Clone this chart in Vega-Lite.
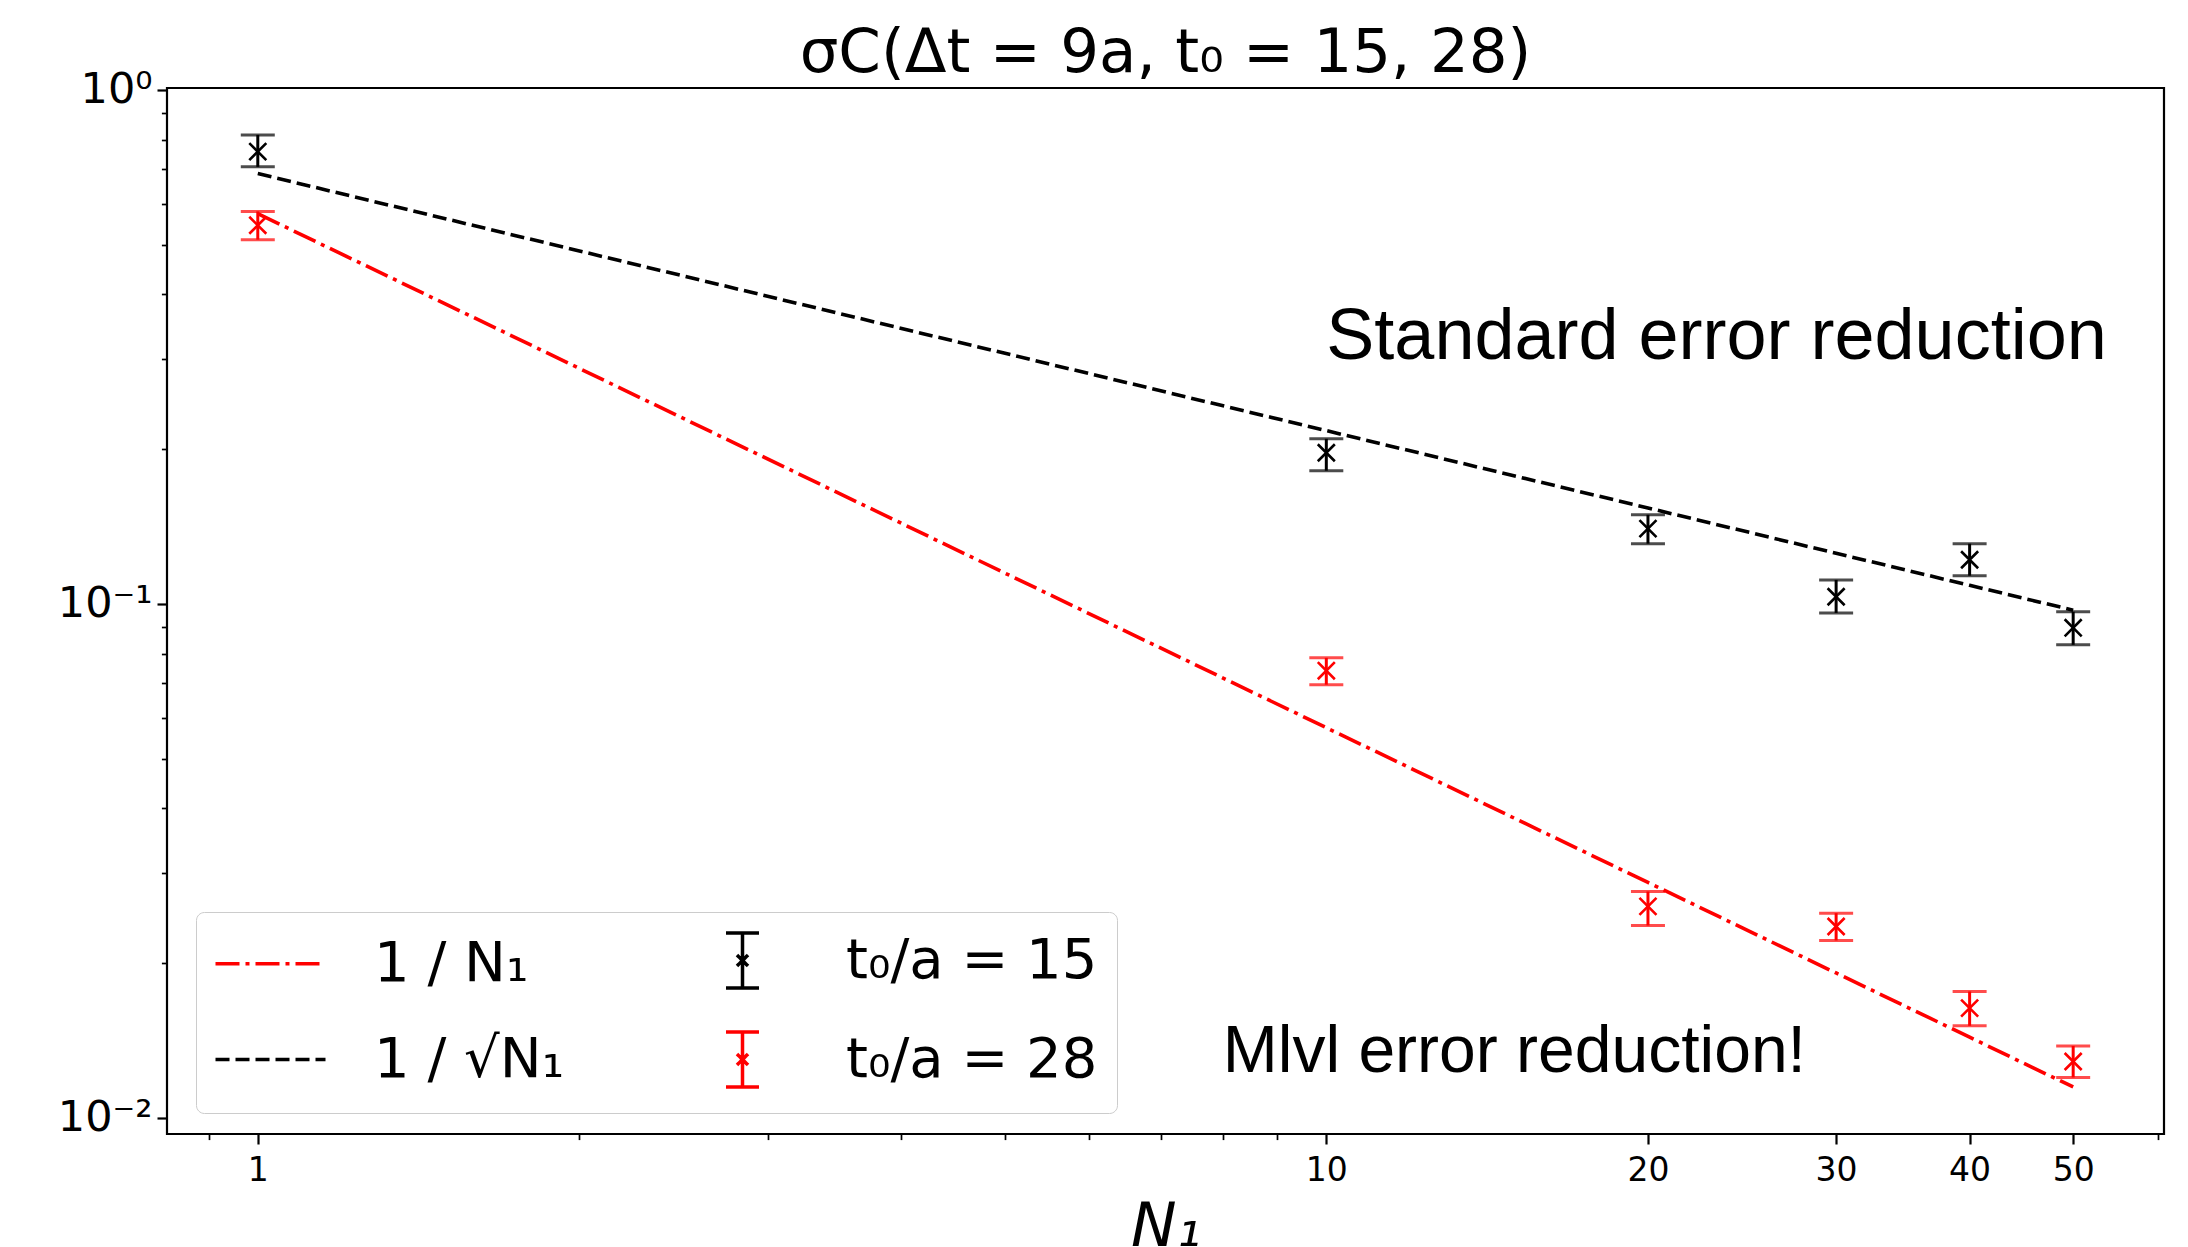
{
  "$schema": "https://vega.github.io/schema/vega-lite/v6.json",
  "width": 1997,
  "height": 1046,
  "autosize": {"type": "none"},
  "padding": {"left": 167, "top": 88, "right": 24, "bottom": 113},
  "background": "white",
  "title": {
    "text": "σC(Δt = 9a, t₀ = 15, 28)",
    "font": "DejaVu Sans",
    "fontSize": 61,
    "fontWeight": "normal",
    "color": "black",
    "anchor": "middle",
    "frame": "group",
    "offset": 8,
    "dy": 24
  },
  "datasets": {
    "points": [
      {"N": 1, "series": "t₀/a = 15", "value": 0.758, "lo": 0.708, "hi": 0.817},
      {"N": 10, "series": "t₀/a = 15", "value": 0.1967, "lo": 0.1815, "hi": 0.2094},
      {"N": 20, "series": "t₀/a = 15", "value": 0.140, "lo": 0.1309, "hi": 0.149},
      {"N": 30, "series": "t₀/a = 15", "value": 0.1032, "lo": 0.096, "hi": 0.1113},
      {"N": 40, "series": "t₀/a = 15", "value": 0.1218, "lo": 0.1134, "hi": 0.1309},
      {"N": 50, "series": "t₀/a = 15", "value": 0.0898, "lo": 0.0832, "hi": 0.0965},
      {"N": 1, "series": "t₀/a = 28", "value": 0.545, "lo": 0.511, "hi": 0.580},
      {"N": 10, "series": "t₀/a = 28", "value": 0.0741, "lo": 0.0696, "hi": 0.0785},
      {"N": 20, "series": "t₀/a = 28", "value": 0.02578, "lo": 0.02366, "hi": 0.02756},
      {"N": 30, "series": "t₀/a = 28", "value": 0.02356, "lo": 0.02213, "hi": 0.02501},
      {"N": 40, "series": "t₀/a = 28", "value": 0.01634, "lo": 0.0151, "hi": 0.01761},
      {"N": 50, "series": "t₀/a = 28", "value": 0.01287, "lo": 0.01198, "hi": 0.0138}
    ],
    "lines": [
      {"N": 1, "series": "1 / N₁", "value": 0.574},
      {"N": 10, "series": "1 / N₁", "value": 0.0574},
      {"N": 20, "series": "1 / N₁", "value": 0.0287},
      {"N": 30, "series": "1 / N₁", "value": 0.01913},
      {"N": 40, "series": "1 / N₁", "value": 0.01435},
      {"N": 50, "series": "1 / N₁", "value": 0.01148},
      {"N": 1, "series": "1 / √N₁", "value": 0.687},
      {"N": 10, "series": "1 / √N₁", "value": 0.2172},
      {"N": 20, "series": "1 / √N₁", "value": 0.1536},
      {"N": 30, "series": "1 / √N₁", "value": 0.1254},
      {"N": 40, "series": "1 / √N₁", "value": 0.1086},
      {"N": 50, "series": "1 / √N₁", "value": 0.0972}
    ],
    "notes": [
      {"N": 10, "value": 0.3, "label": "Standard error reduction"},
      {"N": 8, "value": 0.0123, "label": "Mlvl error reduction!"}
    ]
  },
  "encoding": {
    "x": {
      "field": "N",
      "type": "quantitative",
      "scale": {"type": "log", "domain": [0.8223, 60.81], "nice": false, "zero": false},
      "axis": {
        "title": "N₁",
        "titleFont": "DejaVu Sans",
        "titleFontSize": 61,
        "titleFontStyle": "italic",
        "titleFontWeight": "normal",
        "titleColor": "black",
        "titleBaseline": "alphabetic",
        "titleY": 111,
        "values": [0.9, 1, 2, 3, 4, 5, 6, 7, 8, 9, 10, 20, 30, 40, 50, 60],
        "labelExpr": "indexof([1, 10, 20, 30, 40, 50], datum.value) >= 0 ? datum.value : ''",
        "labelFont": "DejaVu Sans",
        "labelFontSize": 33,
        "labelColor": "black",
        "labelPadding": 10,
        "labelOverlap": false,
        "labelFlush": false,
        "labelBound": false,
        "grid": false,
        "domain": false,
        "tickColor": "black",
        "tickSize": {"condition": {"test": "indexof([1, 10, 20, 30, 40, 50], datum.value) >= 0", "value": 10}, "value": 5.6},
        "tickWidth": {"condition": {"test": "indexof([1, 10, 20, 30, 40, 50], datum.value) >= 0", "value": 2.2}, "value": 1.7}
      }
    },
    "y": {
      "field": "value",
      "type": "quantitative",
      "scale": {"type": "log", "domain": [0.0093, 1.008], "nice": false, "zero": false},
      "axis": {
        "title": null,
        "values": [0.01, 0.02, 0.03, 0.04, 0.05, 0.06, 0.07, 0.08, 0.09, 0.1, 0.2, 0.3, 0.4, 0.5, 0.6, 0.7, 0.8, 0.9, 1],
        "labelExpr": "datum.value == 1 ? '10⁰' : datum.value == 0.1 ? '10⁻¹' : datum.value == 0.01 ? '10⁻²' : ''",
        "labelFont": "DejaVu Sans",
        "labelFontSize": 43,
        "labelColor": "black",
        "labelPadding": 5,
        "labelBaseline": "middle",
        "labelOverlap": false,
        "labelFlush": false,
        "labelBound": false,
        "grid": false,
        "domain": false,
        "tickColor": "black",
        "tickSize": {"condition": {"test": "datum.value == 1 || datum.value == 0.1 || datum.value == 0.01", "value": 10}, "value": 5.6},
        "tickWidth": {"condition": {"test": "datum.value == 1 || datum.value == 0.1 || datum.value == 0.01", "value": 2.2}, "value": 1.7}
      }
    }
  },
  "resolve": {"legend": {"color": "independent", "strokeDash": "independent", "shape": "independent"}},
  "layer": [
    {
      "data": {"name": "lines"},
      "mark": {"type": "line", "strokeWidth": 3.6, "clip": true},
      "encoding": {
        "color": {"field": "series", "type": "nominal", "legend": null},
        "strokeDash": {"field": "series", "type": "nominal", "legend": null},
        "detail": {"field": "series"}
      }
    },
    {
      "data": {"name": "points"},
      "mark": {"type": "rule", "strokeWidth": 3},
      "encoding": {
        "y": {"field": "lo", "type": "quantitative"},
        "y2": {"field": "hi"},
        "color": {"field": "series", "type": "nominal", "legend": null}
      }
    },
    {
      "data": {"name": "points"},
      "mark": {"type": "tick", "orient": "horizontal", "size": 34, "thickness": 3},
      "encoding": {
        "y": {"field": "lo", "type": "quantitative"},
        "color": {"field": "series", "type": "nominal", "legend": null}
      }
    },
    {
      "data": {"name": "points"},
      "mark": {"type": "tick", "orient": "horizontal", "size": 34, "thickness": 3},
      "encoding": {
        "y": {"field": "hi", "type": "quantitative"},
        "color": {"field": "series", "type": "nominal", "legend": null}
      }
    },
    {
      "data": {"name": "points"},
      "mark": {"type": "point", "shape": "M-1,-1L1,1M-1,1L1,-1", "size": 290, "filled": false, "strokeWidth": 2.6, "opacity": 1},
      "encoding": {
        "color": {"field": "series", "type": "nominal", "legend": null}
      }
    },
    {
      "data": {"name": "points"},
      "mark": {"type": "point", "filled": false, "opacity": 0, "strokeWidth": 3.5},
      "encoding": {
        "color": {
          "field": "series",
          "type": "nominal",
          "scale": {
            "domain": ["1 / N₁", "t₀/a = 15", "1 / √N₁", "t₀/a = 28"],
            "range": ["#ff0000", "#000000", "#000000", "#ff0000"]
          },
          "legend": {"title": null, "orient": "none", "legendX": 29, "legendY": 824, "columns": 2, "values": ["1 / N₁", "1 / √N₁", "t₀/a = 15", "t₀/a = 28"]}
        },
        "shape": {
          "field": "series",
          "type": "nominal",
          "scale": {
            "domain": ["1 / N₁", "t₀/a = 15", "1 / √N₁", "t₀/a = 28"],
            "range": [
              "M-2,0L2,0",
              "M0,-1L0,1M-0.6,-1L0.6,-1M-0.6,1L0.6,1M-0.2,-0.2L0.2,0.2M-0.2,0.2L0.2,-0.2",
              "M-2,0L2,0",
              "M0,-1L0,1M-0.6,-1L0.6,-1M-0.6,1L0.6,1M-0.2,-0.2L0.2,0.2M-0.2,0.2L0.2,-0.2"
            ]
          },
          "legend": {"title": null, "orient": "none", "legendX": 29, "legendY": 824, "columns": 2, "values": ["1 / N₁", "1 / √N₁", "t₀/a = 15", "t₀/a = 28"]}
        },
        "strokeDash": {
          "field": "series",
          "type": "nominal",
          "scale": {
            "domain": ["1 / N₁", "t₀/a = 15", "1 / √N₁", "t₀/a = 28"],
            "range": [[24, 6, 4, 6], [1, 0], [14, 6], [1, 0]]
          },
          "legend": {"title": null, "orient": "none", "legendX": 29, "legendY": 824, "columns": 2, "values": ["1 / N₁", "1 / √N₁", "t₀/a = 15", "t₀/a = 28"]}
        }
      }
    },
    {
      "data": {"name": "notes"},
      "transform": [{"filter": "datum.label == 'Standard error reduction'"}],
      "mark": {"type": "text", "font": "Liberation Sans", "fontSize": 72, "align": "left", "baseline": "alphabetic", "color": "black"},
      "encoding": {"text": {"field": "label"}}
    },
    {
      "data": {"name": "notes"},
      "transform": [{"filter": "datum.label == 'Mlvl error reduction!'"}],
      "mark": {"type": "text", "font": "Liberation Sans", "fontSize": 66, "align": "left", "baseline": "alphabetic", "color": "black"},
      "encoding": {"text": {"field": "label"}}
    }
  ],
  "config": {
    "view": {"stroke": "black", "strokeWidth": 2.2},
    "legend": {
      "symbolSize": 3025,
      "symbolStrokeWidth": 3.5,
      "symbolOpacity": 1,
      "symbolFillColor": "transparent",
      "symbolOffset": 26,
      "labelFont": "DejaVu Sans",
      "labelFontSize": 56,
      "labelColor": "black",
      "labelOffset": 74,
      "labelLimit": 0,
      "columnPadding": 122,
      "rowPadding": 30,
      "padding": 19,
      "strokeColor": "#cccccc",
      "fillColor": "white",
      "cornerRadius": 8
    }
  }
}
